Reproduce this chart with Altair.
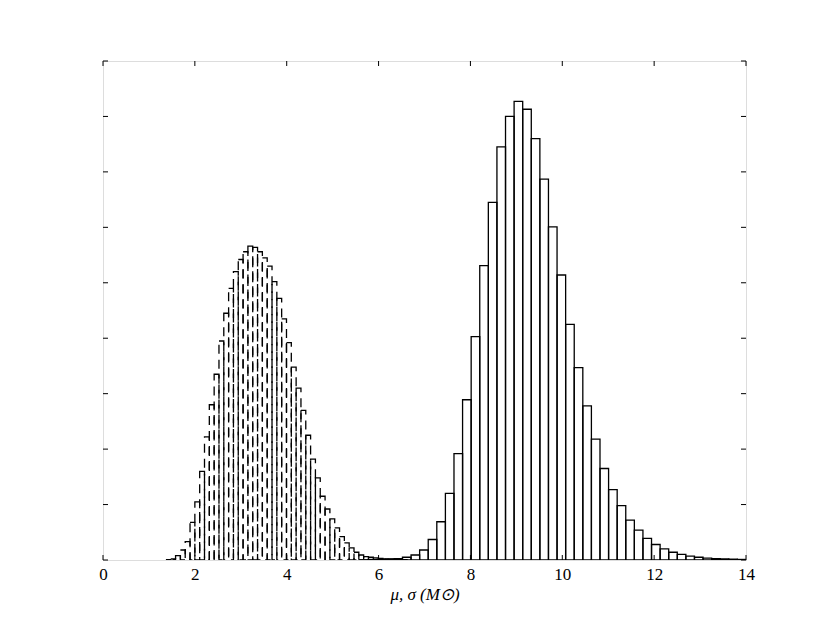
import altair as alt
import pandas as pd

# --- data (y in units of the unlabeled tick step) ---
solid_start = 5.585
solid_width = 0.187
solid_counts = [0.005, 0.01, 0.01, 0.015, 0.025,
                0.05, 0.09, 0.18, 0.37, 0.69, 1.20, 1.92, 2.89, 4.03, 5.31, 6.45, 7.45, 8.00,
                8.27, 8.13, 7.60, 6.87, 6.01, 5.14, 4.25, 3.47, 2.78, 2.18, 1.65, 1.27,
                0.98, 0.72, 0.54, 0.39, 0.28, 0.20, 0.14, 0.10, 0.07, 0.05, 0.035, 0.025, 0.02, 0.015, 0.01]

dashed_start = 1.37
dashed_width = 0.105
dashed_counts = [0.005, 0.02, 0.08, 0.18, 0.33, 0.68, 1.05, 1.60, 2.22, 2.80,
                 3.35, 3.95, 4.45, 4.90, 5.20, 5.42, 5.56, 5.66, 5.64, 5.56,
                 5.45, 5.30, 5.02, 4.72, 4.35, 3.92, 3.48, 3.10, 2.70, 2.25,
                 1.82, 1.48, 1.15, 0.92, 0.74, 0.58, 0.42, 0.31, 0.22, 0.14,
                 0.09, 0.06, 0.05, 0.04, 0.03, 0.02, 0.02, 0.01, 0.01, 0.005]

x_ticks = [0, 2, 4, 6, 8, 10, 12, 14]
y_ticks = [0, 1, 2, 3, 4, 5, 6, 7, 8, 9]
x_title = "μ, σ (M⊙)"

W, H = 643, 499


def hist_df(start, width, counts):
    return pd.DataFrame({
        "x0": [start + i * width for i in range(len(counts))],
        "x1": [start + (i + 1) * width for i in range(len(counts))],
        "h": counts,
    })


solid_df = hist_df(solid_start, solid_width, solid_counts)
dashed_df = hist_df(dashed_start, dashed_width, dashed_counts)

xscale = alt.Scale(domain=[0, 14], nice=False, zero=False)
yscale = alt.Scale(domain=[0, 9], nice=False)

xaxis = alt.Axis(values=x_ticks, title=x_title, ticks=False, domain=False, grid=False,
                 labelFont="Liberation Serif", labelFontSize=17, labelColor="black",
                 labelPadding=6, titleFont="Liberation Serif", titleFontSize=17,
                 titleFontStyle="italic", titleFontWeight="normal", titleColor="black",
                 titlePadding=4, labelFlush=False)
yaxis = alt.Axis(labels=False, ticks=False, domain=False, grid=False, title=None)

solid = alt.Chart(solid_df).mark_bar(fillOpacity=0, stroke="black", strokeWidth=1.3, clip=True).encode(
    x=alt.X("x0:Q", scale=xscale, axis=xaxis),
    x2="x1:Q",
    y=alt.Y("h:Q", scale=yscale, axis=yaxis),
    y2=alt.datum(0),
)

dashed = alt.Chart(dashed_df).mark_bar(fillOpacity=0, stroke="black", strokeWidth=1.3,
                                       strokeDash=[9, 6], clip=True).encode(
    x=alt.X("x0:Q", scale=xscale),
    x2="x1:Q",
    y=alt.Y("h:Q", scale=yscale),
    y2=alt.datum(0),
)

xt = pd.DataFrame({"v": x_ticks})
yt = pd.DataFrame({"v": y_ticks})

xtick_bot = alt.Chart(xt).mark_rule(color="black", strokeWidth=1).encode(
    x=alt.X("v:Q", scale=xscale), y=alt.value(H), y2=alt.value(H - 5))
xtick_top = alt.Chart(xt).mark_rule(color="black", strokeWidth=1).encode(
    x=alt.X("v:Q", scale=xscale), y=alt.value(0), y2=alt.value(5))
ytick_left = alt.Chart(yt).mark_rule(color="black", strokeWidth=1).encode(
    y=alt.Y("v:Q", scale=yscale), x=alt.value(0), x2=alt.value(5))
ytick_right = alt.Chart(yt).mark_rule(color="black", strokeWidth=1).encode(
    y=alt.Y("v:Q", scale=yscale), x=alt.value(W), x2=alt.value(W - 5))

chart = alt.layer(dashed, solid, xtick_bot, xtick_top, ytick_left, ytick_right).properties(
    width=W, height=H,
    autosize=alt.AutoSizeParams(type="none"),
    padding={"left": 95, "top": 53, "right": 70, "bottom": 55},
).configure_view(stroke="black", strokeWidth=1.3).configure(background="white")

chart.save("out.html", embed_options={"renderer": "svg", "actions": False})
